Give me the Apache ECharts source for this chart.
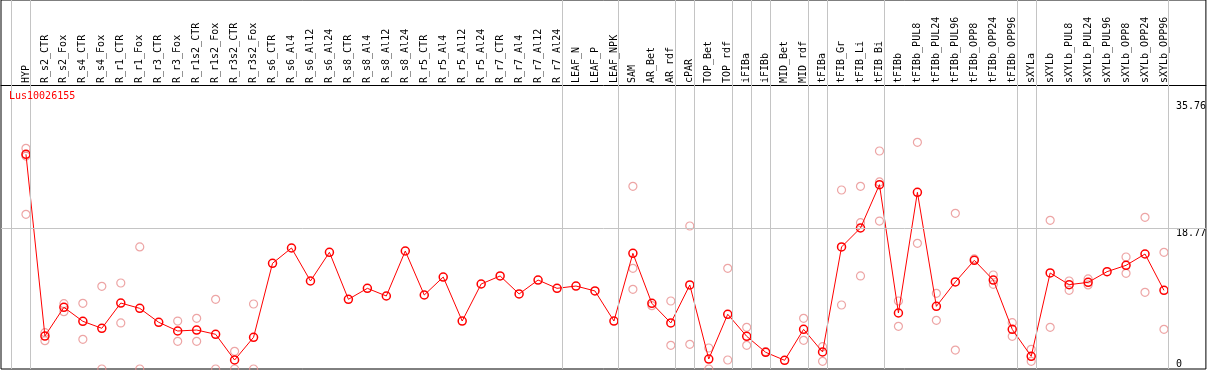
<!DOCTYPE html>
<html>
<head>
<meta charset="utf-8">
<script src="https://cdn.jsdelivr.net/npm/echarts@6/dist/echarts.min.js"></script>
<style>
html, body { margin: 0; padding: 0; background: #fff; }
#chart { width: 1209px; height: 370px; }
</style>
</head>
<body>
<div id="chart"></div>
<script>
var categories = [
  "HYP", "R_s2_CTR", "R_s2_Fox", "R_s4_CTR", "R_s4_Fox", "R_r1_CTR", "R_r1_Fox",
  "R_r3_CTR", "R_r3_Fox", "R_r1s2_CTR", "R_r1s2_Fox", "R_r3s2_CTR", "R_r3s2_Fox",
  "R_s6_CTR", "R_s6_Al4", "R_s6_Al12", "R_s6_Al24", "R_s8_CTR", "R_s8_Al4", "R_s8_Al12",
  "R_s8_Al24", "R_r5_CTR", "R_r5_Al4", "R_r5_Al12", "R_r5_Al24", "R_r7_CTR", "R_r7_Al4",
  "R_r7_Al12", "R_r7_Al24", "LEAF_N", "LEAF_P", "LEAF_NPK", "SAM", "AR_Bet", "AR_rdf",
  "cPAR", "TOP_Bet", "TOP_rdf", "iFIBa", "iFIBb", "MID_Bet", "MID_rdf", "tFIBa",
  "tFIB_Gr", "tFIB_Li", "tFIB_Bi", "tFIBb", "tFIBb_PUL8", "tFIBb_PUL24", "tFIBb_PUL96",
  "tFIBb_OPP8", "tFIBb_OPP24", "tFIBb_OPP96", "sXYLa", "sXYLb", "sXYLb_PUL8",
  "sXYLb_PUL24", "sXYLb_PUL96", "sXYLb_OPP8", "sXYLb_OPP24", "sXYLb_OPP96"
];

// mean line
var meanValues = [
  28.64, 4.40, 8.23, 6.36, 5.43, 8.80, 8.09, 6.23, 5.07, 5.20, 4.63, 1.20, 4.23,
  14.10, 16.14, 11.74, 15.57, 9.30, 10.76, 9.74, 15.74, 9.87, 12.27, 6.40, 11.34,
  12.41, 10.01, 11.87, 10.76, 11.07, 10.41, 6.40, 15.43, 8.76, 6.14, 11.21, 1.33,
  7.30, 4.36, 2.23, 1.16, 5.29, 2.27, 16.28, 18.81, 24.59, 7.47, 23.57, 8.36, 11.61,
  14.50, 11.87, 5.29, 1.69, 12.81, 11.25, 11.56, 12.99, 13.83, 15.34, 10.49
];

// replicates (null = not visible)
var repHigh = [
  29.44, 4.85, 8.71, 8.76, 11.03, 11.47, 16.28, null, 6.40, 6.76, 9.30, 2.36, 8.67,
  null, null, null, null, null, null, null, null, null, null,
  null, null, null, null, null, null, null, null, null,
  24.37, 8.45, 9.07, 19.08, 2.80, 13.43, 5.56, 2.31, null, 6.76, 2.98, 23.88, 24.37,
  29.08, 9.07, 30.24, 10.09, 20.77, 14.68, 12.54, 6.18, 2.62, 19.83, 11.74, 12.01,
  null, 14.94, 20.23, 15.57
];
var repLow = [
  20.63, 3.78, 7.65, 3.96, 0, 6.14, 0, null, 3.69, 3.69, 0, 0, 0,
  null, null, null, null, null, null, null, null, null, null,
  null, null, null, null, null, null, null, null, null,
  10.63, null, 3.16, 3.29, 0, 1.20, 3.16, null, null, 3.83, 1.02, 8.54, 12.41,
  19.74, 5.69, 16.77, 6.49, 2.53, null, 11.29, 4.36, 1.02, 5.56, 10.49, 11.21,
  null, 12.76, 10.23, 5.29
];
var repMid = [
  28.4, null, null, null, null, null, null, null, null, null, null, null, null,
  null, null, null, null, null, null, null, null, null, null,
  null, null, null, null, null, null, null, null, null,
  13.43, null, null, null, null, null, null, null, null, null, null, null, 19.52,
  24.95, null, null, null, null, null, null, null, null, null, null, null,
  null, null, null, null
];

var yTicks = [0, 18.77, 35.76];
var groupEnds = [-1, 0, 28, 31, 34, 35, 37, 38, 39, 41, 42, 45, 52, 53, 60];

var mono = "DejaVu Sans Mono";

function toPoints(arr) {
  var out = [];
  arr.forEach(function (v, i) {
    if (v !== null) out.push([i, v]);
  });
  return out;
}

var chart = echarts.init(document.getElementById("chart"), null, { renderer: "canvas" });

var repStyle = {
  color: "rgba(0,0,0,0)",
  borderColor: "#e88f8f",
  borderWidth: 1.2
};

chart.setOption({
  animation: false,
  title: {
    text: "Lus10026155",
    left: 9,
    top: 91,
    padding: 0,
    textStyle: { color: "#ff0000", fontFamily: mono, fontSize: 10, fontWeight: "normal" }
  },
  grid: {
    left: 1, right: 1, top: 0, bottom: 1,
    show: true, borderColor: "#000", borderWidth: 1, backgroundColor: "#fff"
  },
  xAxis: {
    type: "value",
    position: "top",
    offset: -85,
    min: -25 / 19,
    max: 1182 / 19,
    axisLine: { onZero: false, lineStyle: { color: "#000", width: 1 } },
    axisTick: { show: false },
    splitLine: { show: false },
    axisLabel: {
      customValues: categories.map(function (c, i) { return i; }),
      formatter: function (v) { return categories[v]; },
      rotate: -90,
      margin: 2,
      color: "#000",
      fontFamily: mono,
      fontSize: 10
    }
  },
  yAxis: {
    type: "value",
    position: "right",
    min: 0,
    max: 49.226,
    axisLine: { show: false },
    axisTick: { show: false },
    splitLine: { show: false },
    axisLabel: {
      customValues: yTicks,
      formatter: function (v) { return String(v); },
      inside: true,
      align: "left",
      margin: 30,
      verticalAlign: "top",
      verticalAlignMinLabel: "bottom",
      color: "#000",
      fontFamily: mono,
      fontSize: 10
    }
  },
  series: [
    {
      type: "scatter",
      data: [],
      z: 1,
      markLine: {
        silent: true,
        symbol: "none",
        animation: false,
        label: { show: false },
        lineStyle: { color: "#c4c4c4", width: 1, type: "solid" },
        data: groupEnds.map(function (g) { return { xAxis: g + 0.25 }; })
          .concat([{ yAxis: yTicks[1] }])
      }
    },
    { type: "scatter", z: 2, symbol: "circle", symbolSize: 8, data: toPoints(repHigh), itemStyle: repStyle },
    { type: "scatter", z: 2, symbol: "circle", symbolSize: 8, data: toPoints(repMid), itemStyle: repStyle },
    { type: "scatter", z: 2, symbol: "circle", symbolSize: 8, data: toPoints(repLow), itemStyle: repStyle },
    {
      type: "line",
      z: 3,
      data: toPoints(meanValues),
      symbol: "circle",
      symbolSize: 8,
      lineStyle: { color: "#ff0000", width: 1 },
      itemStyle: { color: "rgba(0,0,0,0)", borderColor: "#ff0000", borderWidth: 1.5 }
    }
  ]
});

window.addEventListener("resize", function () { chart.resize(); });
</script>
</body>
</html>
